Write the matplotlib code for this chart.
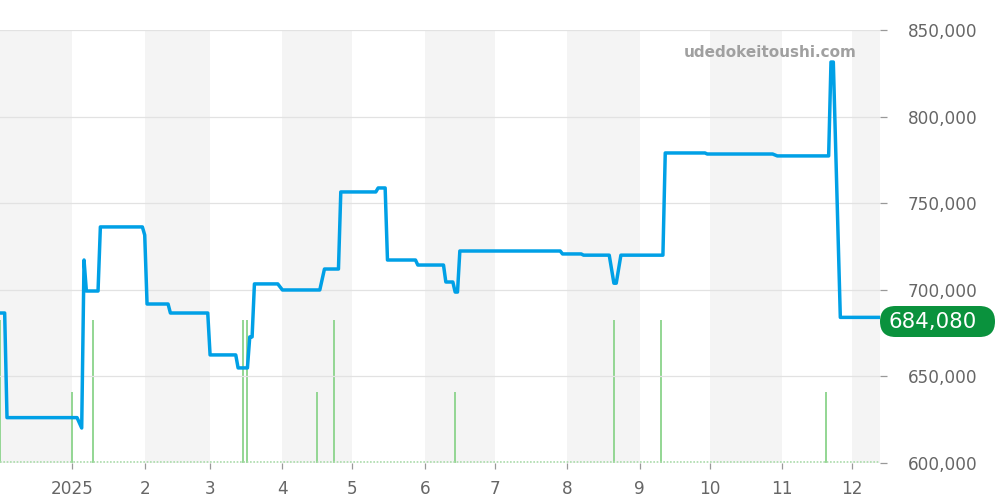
import datetime as dt
import matplotlib
matplotlib.use("Agg")
import matplotlib.pyplot as plt
from matplotlib.patches import FancyBboxPatch

# ---- data ----
price_dates = [
    "2024-12-01", "2024-12-03", "2024-12-04", "2025-01-03", "2025-01-05", "2025-01-06",
    "2025-01-07", "2025-01-12", "2025-01-13", "2025-01-31", "2025-02-01", "2025-02-02",
    "2025-02-11", "2025-02-12", "2025-02-28", "2025-03-01", "2025-03-12", "2025-03-13",
    "2025-03-17", "2025-03-18", "2025-03-19", "2025-03-20", "2025-03-30", "2025-04-01",
    "2025-04-17", "2025-04-19", "2025-04-25", "2025-04-26", "2025-05-11", "2025-05-12",
    "2025-05-15", "2025-05-16", "2025-05-28", "2025-05-29", "2025-06-09", "2025-06-10",
    "2025-06-13", "2025-06-14", "2025-06-15", "2025-06-16", "2025-07-29", "2025-07-30",
    "2025-08-07", "2025-08-08", "2025-08-19", "2025-08-21", "2025-08-22", "2025-08-24",
    "2025-09-11", "2025-09-12", "2025-09-29", "2025-09-30", "2025-10-28", "2025-10-30",
    "2025-11-21", "2025-11-22", "2025-11-23", "2025-11-26", "2025-12-13",
]
price_values = [
    686600, 686600, 626200, 626200, 620200, 717200,
    699300, 699300, 736300, 736300, 731600, 691800,
    691800, 686600, 686600, 662400, 662400, 654900,
    654900, 672800, 672800, 703400, 703400, 699900,
    699900, 712000, 712000, 756500, 756500, 758800,
    758800, 717200, 717200, 714300, 714300, 704500,
    704500, 698700, 698700, 722400, 722400, 720700,
    720700, 720000, 720000, 703800, 703800, 720000,
    720000, 779000, 779000, 778400, 778400, 777300,
    777300, 831500, 831500, 684080, 684080,
]
volume_dates = [
    "2024-12-01", "2025-01-01", "2025-01-10", "2025-03-15", "2025-03-17", "2025-04-16",
    "2025-04-23", "2025-06-14", "2025-08-21", "2025-09-10", "2025-11-20",
]
volume_counts = [2, 1, 2, 2, 2, 1, 2, 1, 2, 2, 1]

month_ticks = ["2025-01-01", "2025-02-01", "2025-03-01", "2025-04-01", "2025-05-01",
               "2025-06-01", "2025-07-01", "2025-08-01", "2025-09-01", "2025-10-01",
               "2025-11-01", "2025-12-01"]
month_labels = ["2025", "2", "3", "4", "5", "6", "7", "8", "9", "10", "11", "12"]
shaded_months = [("2024-12-01", "2025-01-01"), ("2025-02-01", "2025-03-01"),
                 ("2025-04-01", "2025-05-01"), ("2025-06-01", "2025-07-01"),
                 ("2025-08-01", "2025-09-01"), ("2025-10-01", "2025-11-01"),
                 ("2025-12-01", "2025-12-13")]
y_ticks = [600000, 650000, 700000, 750000, 800000, 850000]
last_price = 684080

def d(s):
    return dt.datetime.strptime(s, "%Y-%m-%d")

x_start, x_end = d("2024-12-01"), d("2025-12-13")

fig = plt.figure(figsize=(10, 5), dpi=100)
ax2 = fig.add_axes([0.0, 0.074, 0.88, 0.866])
ax = ax2.twinx()
ax.set_zorder(ax2.get_zorder() + 1)
ax.patch.set_visible(False)

# background bands
for a, b in shaded_months:
    ax2.axvspan(d(a), d(b), color="#f4f4f4", lw=0, zorder=0)

# volume bars
ax2.vlines([d(s) for s in volume_dates], 0, volume_counts, color="#93d693", lw=1.4, zorder=2)
ax2.axhline(0.01, color="#a8dca8", lw=1.2, ls=(0, (1, 1)), zorder=2)
ax2.set_ylim(0, 6.06)
ax2.set_yticks([])
for s in ax2.spines.values():
    s.set_visible(False)

# price line
ax.plot([d(s) for s in price_dates], price_values, color="#00a0e6", lw=2.5,
        solid_joinstyle="round", zorder=5)
ax.set_ylim(600000, 850000)
ax.set_xlim(x_start, x_end)
ax.set_yticks(y_ticks)
ax.set_yticklabels([f"{v:,}" for v in y_ticks])
ax.grid(axis="y", color="#e2e2e2", lw=0.9)
ax.set_axisbelow(True)
ax.tick_params(axis="y", right=True, left=False, labelright=True, labelleft=False,
               length=5, width=0.9, color="#999999", labelcolor="#666666",
               labelsize=12.2, pad=15)
for s in ax.spines.values():
    s.set_visible(False)

ax2.set_xticks([d(s) for s in month_ticks])
ax2.set_xticklabels(month_labels)
ax2.tick_params(axis="x", length=4, width=0.9, color="#999999", labelcolor="#666666",
                labelsize=12.2, pad=8)
ax.tick_params(axis="x", bottom=False, labelbottom=False)
ax2.set_xlim(x_start, x_end)

# last price label (pill-shaped box)
box = FancyBboxPatch((8.80, 1.63), 1.15, 0.31,
                     boxstyle="round,pad=0,rounding_size=0.155",
                     transform=fig.dpi_scale_trans, fc="#0a923d", ec="none", zorder=10)
fig.add_artist(box)
fig.text(0.888, 0.344, f"{last_price:,}", ha="left", va="baseline",
         fontsize=15.3, color="white", zorder=11)

# watermark
ax.text(0.974, 0.949, "udedokeitoushi.com", transform=ax.transAxes, ha="right",
        va="center", fontsize=11, fontweight="bold", color="#a0a0a0", zorder=1)

fig.savefig("out.png", dpi=100)
